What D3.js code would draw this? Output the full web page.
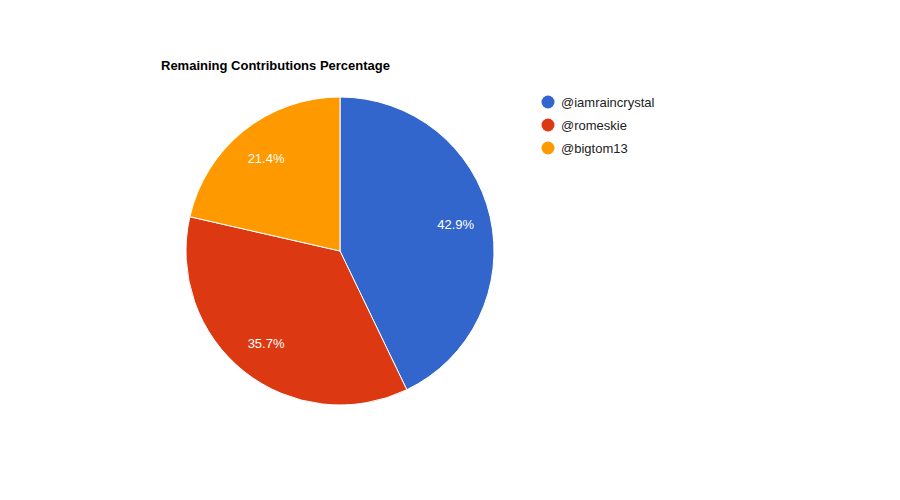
<!DOCTYPE html>
<html>
<head>
<meta charset="utf-8">
<script src="https://cdn.jsdelivr.net/npm/d3@7"></script>
<style>body{margin:0;background:#fff;}</style>
</head>
<body>
<svg id="chart" width="900" height="500"></svg>
<script>
const names = ["@iamraincrystal", "@romeskie", "@bigtom13"];
const values = [6, 5, 3];
const colors = ["#3366cc", "#dc3912", "#ff9900"];

const svg = d3.select("#chart");
const cx = 340, cy = 251, r = 154;
const font = "Arial, 'Liberation Sans', sans-serif";

svg.append("text")
  .attr("x", 161).attr("y", 70)
  .attr("font-family", font).attr("font-size", 13).attr("font-weight", "bold")
  .text("Remaining Contributions Percentage");

const pie = d3.pie().sort(null)(values);
const arc = d3.arc().innerRadius(0).outerRadius(r);
const labelArc = d3.arc().innerRadius(r * 0.77).outerRadius(r * 0.77);
const total = d3.sum(values);

const g = svg.append("g").attr("transform", `translate(${cx},${cy})`);
g.selectAll("path").data(pie).enter().append("path")
  .attr("d", arc)
  .attr("fill", (d, i) => colors[i])
  .attr("stroke", "#fff").attr("stroke-width", 1);

g.selectAll("text").data(pie).enter().append("text")
  .attr("transform", d => `translate(${labelArc.centroid(d)})`)
  .attr("text-anchor", "middle").attr("dy", "0.35em")
  .attr("font-family", font).attr("font-size", 13).attr("fill", "#fff")
  .text(d => (d.value / total * 100).toFixed(1) + "%");

const leg = svg.append("g").selectAll("g").data(names).enter().append("g")
  .attr("transform", (d, i) => `translate(548, ${102 + i * 23})`);
leg.append("circle").attr("r", 6.5).attr("fill", (d, i) => colors[i]);
leg.append("text").attr("x", 13).attr("dy", "0.35em")
  .attr("font-family", font).attr("font-size", 13).attr("fill", "#222")
  .text(d => d);
</script>
</body>
</html>
